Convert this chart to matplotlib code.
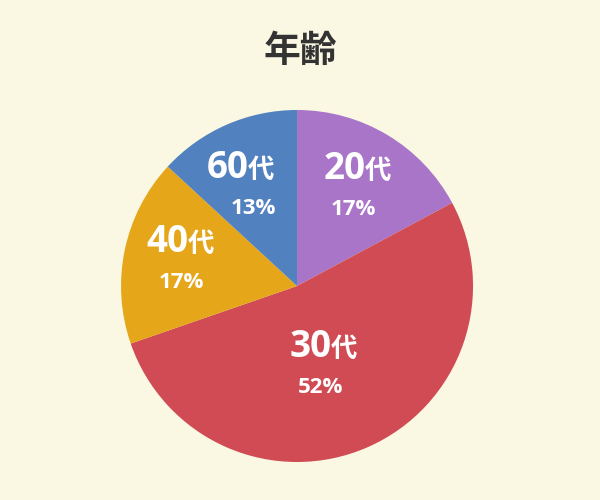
import matplotlib.pyplot as plt

# data
labels = ["20", "30", "40", "60"]
values = [17, 52, 17, 13]
pct_text = ["17%", "52%", "17%", "13%"]
colors = ["#A975C8", "#D04B53", "#E5A61A", "#5181BF"]

# label layout (pie radius = 1): name centre x, percent centre (x, y)
name_x = [0.344, 0.153, -0.659, -0.318]
pct_xy = [(0.32, 0.443), (0.131, -0.568), (-0.659, 0.028), (-0.25, 0.449)]

bg = "#FAF8E3"

fig = plt.figure(figsize=(6, 5), dpi=100, facecolor=bg)
ax = fig.add_axes([0.2017, 0.076, 0.5867, 0.704])
ax.set_facecolor(bg)

wedges, _ = ax.pie(values, colors=colors, startangle=90, counterclock=False,
                   radius=1.0, wedgeprops=dict(linewidth=0))
ax.set_xlim(-1, 1)
ax.set_ylim(-1, 1)
ax.set_aspect("equal")
ax.axis("off")

num_font = ["Open Sans", "Noto Sans CJK JP", "DejaVu Sans"]
cjk_font = ["Noto Sans CJK JP", "DejaVu Sans"]

for i in range(len(values)):
    px, py = pct_xy[i]
    base = py + 0.165
    split = name_x[i] + 0.044
    # name: digits + 代 at different sizes
    ax.text(split, base, labels[i], ha="right", va="baseline",
            fontsize=26.5, fontweight="bold", color="white", family=num_font)
    ax.text(split - 0.004, base, "代", ha="left", va="baseline",
            fontsize=19, fontweight="bold", color="white", family=cjk_font)
    ax.text(px, py - 0.01, pct_text[i], ha="center", va="center",
            fontsize=16, fontweight="bold", color="white", family=num_font)

fig.text(0.5, 0.898, "年齢", ha="center", va="center", fontsize=26.5,
         fontweight="bold", color="#333333", family=cjk_font)

fig.savefig("out.png", dpi=100, facecolor=bg)
